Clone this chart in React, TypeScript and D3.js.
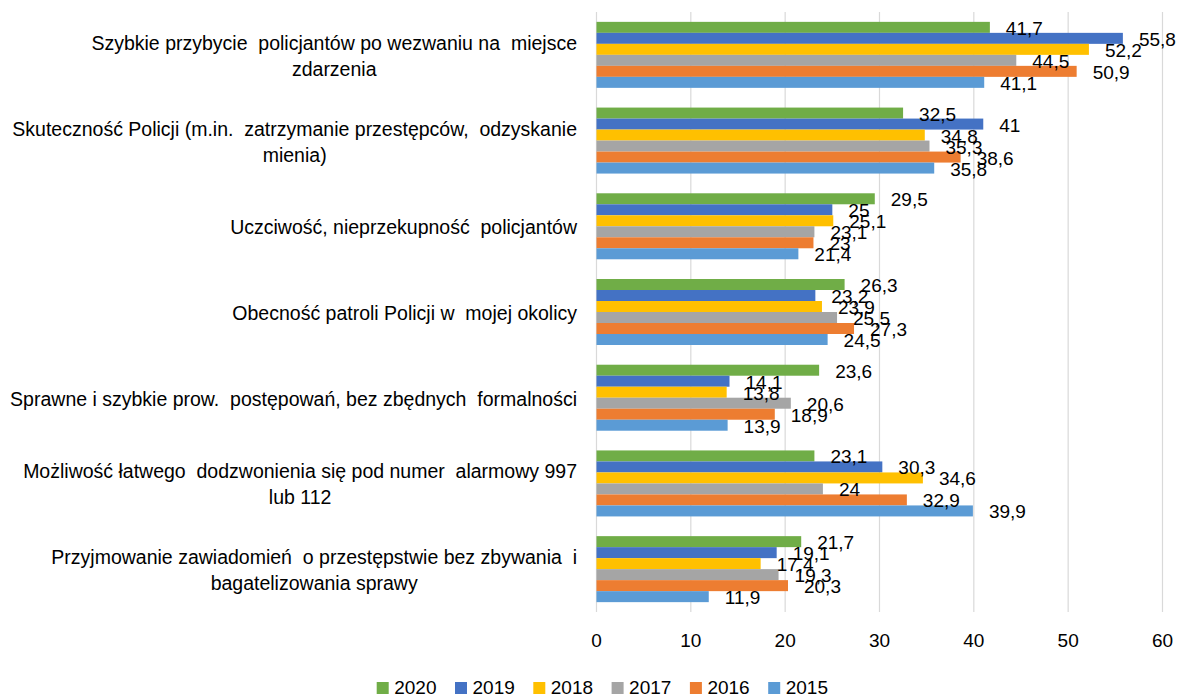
import React, { useEffect, useRef } from "react";
import * as d3 from "d3";

const categories: string[][] = [
  ["Szybkie przybycie  policjantów po wezwaniu na  miejsce", "zdarzenia"],
  ["Skuteczność Policji (m.in.  zatrzymanie przestępców,  odzyskanie", "mienia)"],
  ["Uczciwość, nieprzekupność  policjantów"],
  ["Obecność patroli Policji w  mojej okolicy"],
  ["Sprawne i szybkie prow.  postępowań, bez zbędnych  formalności"],
  ["Możliwość łatwego  dodzwonienia się pod numer  alarmowy 997", "lub 112"],
  ["Przyjmowanie zawiadomień  o przestępstwie bez zbywania  i", "bagatelizowania sprawy"],
];

const seriesNames = ["2020", "2019", "2018", "2017", "2016", "2015"];
const seriesColors = ["#70AD47", "#4472C4", "#FFC000", "#A5A5A5", "#ED7D31", "#5B9BD5"];

const s2020 = [41.7, 32.5, 29.5, 26.3, 23.6, 23.1, 21.7];
const s2019 = [55.8, 41, 25, 23.2, 14.1, 30.3, 19.1];
const s2018 = [52.2, 34.8, 25.1, 23.9, 13.8, 34.6, 17.4];
const s2017 = [44.5, 35.3, 23.1, 25.5, 20.6, 24, 19.3];
const s2016 = [50.9, 38.6, 23, 27.3, 18.9, 32.9, 20.3];
const s2015 = [41.1, 35.8, 21.4, 24.5, 13.9, 39.9, 11.9];

const seriesValues = [s2020, s2019, s2018, s2017, s2016, s2015];
const xTicks = [0, 10, 20, 30, 40, 50, 60];

const W = 1180;
const H = 697;
const FONT = "'Liberation Sans', Arial, sans-serif";

export default function App() {
  const ref = useRef<SVGSVGElement | null>(null);

  useEffect(() => {
    const svg = d3.select(ref.current);
    svg.selectAll("*").remove();

    const left = 596.5, right = 1162.5, top = 12, bottom = 612;
    const x = d3.scaleLinear().domain([0, 60]).range([left, right]);
    const y0 = d3
      .scaleBand<number>()
      .domain(d3.range(categories.length))
      .range([top, bottom])
      .paddingInner(0.23)
      .paddingOuter(0.115);
    const y1 = d3
      .scaleBand<number>()
      .domain(d3.range(seriesNames.length))
      .range([0, y0.bandwidth()]);

    // gridlines
    svg
      .append("g")
      .selectAll("line")
      .data(xTicks)
      .join("line")
      .attr("x1", (d) => x(d))
      .attr("x2", (d) => x(d))
      .attr("y1", top)
      .attr("y2", bottom)
      .attr("stroke", "#d9d9d9")
      .attr("stroke-width", 1.2);

    // tick labels
    svg
      .append("g")
      .selectAll("text")
      .data(xTicks)
      .join("text")
      .attr("x", (d) => x(d))
      .attr("y", 647)
      .attr("text-anchor", "middle")
      .attr("font-family", FONT)
      .attr("font-size", 19)
      .attr("fill", "#000")
      .text((d) => String(d));

    // bars
    seriesValues.forEach((vals, si) => {
      const g = svg.append("g");
      g.selectAll("rect")
        .data(vals)
        .join("rect")
        .attr("x", x(0))
        .attr("y", (_d, ci) => (y0(ci) as number) + (y1(si) as number))
        .attr("width", (d) => x(d) - x(0))
        .attr("height", y1.bandwidth())
        .attr("fill", seriesColors[si]);
    });

    // value labels
    seriesValues.forEach((vals, si) => {
      const g = svg.append("g");
      g.selectAll("text")
        .data(vals)
        .join("text")
        .attr("x", (d) => x(d) + 16)
        .attr("y", (_d, ci) => (y0(ci) as number) + (y1(si) as number) + y1.bandwidth() / 2 + 7.5)
        .attr("font-family", FONT)
        .attr("font-size", 19)
        .attr("fill", "#000")
        .text((d) => String(d).replace(".", ","));
    });

    // category labels
    const labelRight = 577;
    const lineH = 26;
    categories.forEach((lines, ci) => {
      const cy = (y0(ci) as number) + y0.bandwidth() / 2 + 1;
      const n = lines.length;
      const g = svg.append("g");
      const texts = lines.map((ln, li) =>
        g
          .append("text")
          .attr("font-family", FONT)
          .attr("font-size", 19.5)
          .attr("fill", "#000")
          .style("white-space", "pre")
          .attr("y", cy + (li - (n - 1) / 2) * lineH + 7)
          .text(ln)
      );
      const widths = texts.map((t) => (t.node() as SVGTextElement).getComputedTextLength());
      const maxW = Math.max(...widths);
      const centerX = labelRight - maxW / 2;
      texts.forEach((t) => t.attr("x", centerX).attr("text-anchor", "middle"));
    });

    // legend
    const legX0 = 376.7;
    const legStep = 78.3;
    const lg = svg.append("g");
    seriesNames.forEach((name, si) => {
      const lx = legX0 + si * legStep;
      lg.append("rect")
        .attr("x", lx)
        .attr("y", 682)
        .attr("width", 12)
        .attr("height", 12)
        .attr("fill", seriesColors[si]);
      lg.append("text")
        .attr("x", lx + 17.5)
        .attr("y", 694)
        .attr("font-family", FONT)
        .attr("font-size", 19)
        .attr("fill", "#000")
        .text(name);
    });
  }, []);

  return (
    <svg
      ref={ref}
      width={W}
      height={H}
      style={{ position: "absolute", left: 0, top: 0, background: "#fff" }}
    />
  );
}
